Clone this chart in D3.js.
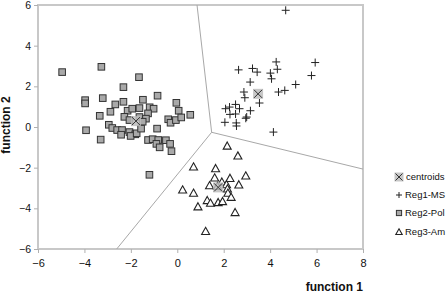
<!DOCTYPE html>
<html>
<head>
<meta charset="utf-8">
<script src="https://cdn.jsdelivr.net/npm/d3@7"></script>
<style>
  body { margin: 0; background: #fff; }
  svg { display: block; font-family: Arial, "Liberation Sans", sans-serif; }
</style>
</head>
<body>
<div id="chart"></div>
<script>
// Reg1-MS (dấu +)
const reg1X = [4.67, 4.26, 5.94, 2.64, 3.24, 3.44, 4.31, 4.01, 4.06, 5.78, 3.14, 5.10, 4.63, 4.36, 2.87,
               2.91, 3.54, 2.51, 2.25, 2.08, 2.68, 2.27, 2.51, 3.15, 2.95, 2.99, 2.05, 2.54, 2.55, 4.14];
const reg1Y = [5.74, 3.20, 3.17, 2.81, 2.88, 2.70, 2.84, 2.65, 2.37, 2.53, 2.21, 2.09, 1.80, 1.72, 1.72,
               1.44, 1.18, 1.11, 0.98, 0.90, 0.90, 0.62, 0.64, 0.80, 0.43, 0.49, 0.23, 0.20, 0.05, -0.25];

// Reg2-Pol (ô vuông)
const reg2X = [-4.96, -3.27, -1.65, -2.32, -0.85, -0.04, -3.97, -3.97, -3.21, -2.32, -2.67, -1.48, -2.88, -3.34,
               -2.14, -1.94, -1.63, -1.19, -1.02, -1.26, -2.28, -2.06, -1.63, -1.35, -1.49, -0.39, -0.29, -2.95,
               -2.80, -2.59, -2.38, -2.42, -2.06, -1.81, -2.01, -1.75, -1.56, -0.87, -3.93, -3.30, -1.26, -1.06,
               -0.82, -0.90, -0.76, -0.49, -0.31, -0.25, 0.06, -0.06, 0.56, 0.17, -1.20];
const reg2Y = [2.70, 2.96, 2.45, 1.96, 1.54, 1.19, 1.32, 1.16, 1.42, 1.24, 1.11, 1.34, 0.75, 0.55,
               0.80, 0.90, 0.93, 0.97, 0.90, 0.67, 0.50, 0.34, 0.49, 0.41, 0.26, 0.38, 0.21, 0.11,
               -0.05, -0.15, -0.15, -0.38, -0.25, -0.36, -0.44, -0.31, -0.08, -0.08, -0.16, -0.62, -0.64, -0.60,
               -0.64, -0.83, -1.00, -0.65, -0.83, -1.19, 0.80, 0.34, 0.60, 0.47, -2.35];

// Reg3-Am (tam giác)
const reg3X = [2.15, 2.61, 0.70, 1.65, 1.61, 2.95, 2.27, 1.92, 1.39, 2.12, 2.65, 0.23, 2.16, 2.18,
               0.70, 2.32, 1.29, 1.43, 1.76, 1.95, 0.89, 2.49, 1.22, 1.73];
const reg3Y = [-0.93, -1.42, -1.96, -2.04, -2.50, -2.40, -2.52, -2.70, -2.88, -2.83, -2.84, -3.09, -3.04, -3.25,
               -3.25, -3.45, -3.61, -3.74, -3.71, -3.66, -3.92, -4.20, -5.13, -2.92];

// Tâm nhóm (centroids)
const centroidX = [3.48, -1.78, 1.76];
const centroidY = [1.63, 0.29, -2.97];

// Đường phân vùng: đỉnh chung và 3 điểm cuối
const boundaryVertex = [1.48, -0.26];
const boundaryEndX = [0.85, 8, -2.61];
const boundaryEndY = [6, -2.07, -6];

const xTicks = [-6, -4, -2, 0, 2, 4, 6, 8];
const yTicks = [-6, -4, -2, 0, 2, 4, 6];
const legendLabels = ["centroids", "Reg1-MS", "Reg2-Pol", "Reg3-Am"];

const chartWidth = 448, chartHeight = 294;
const margin = { top: 5, right: 85, bottom: 45, left: 38 };
const width = chartWidth - margin.left - margin.right;
const height = chartHeight - margin.top - margin.bottom;

const svgRoot = d3.select("#chart").append("svg")
    .attr("width", chartWidth)
    .attr("height", chartHeight);
const svg = svgRoot.append("g")
    .attr("transform", `translate(${margin.left},${margin.top})`);

const x = d3.scaleLinear().domain([-6, 8]).range([0, width]);
const y = d3.scaleLinear().domain([-6, 6]).range([height, 0]);

// Khung viền xám nhạt
svg.append("rect")
    .attr("x", 0).attr("y", 0)
    .attr("width", width).attr("height", height)
    .attr("fill", "none")
    .attr("stroke", "#c8c8c8")
    .attr("stroke-width", 2);

// Trục X
const xAxis = svg.append("g")
    .attr("transform", `translate(0,${height})`)
    .call(d3.axisBottom(x).tickValues(xTicks).tickSize(4).tickPadding(6).tickFormat(d3.format("d")));
xAxis.select(".domain").remove();
xAxis.selectAll("line").attr("stroke", "#b0b0b0");
xAxis.selectAll("text").style("font-size", "11px").style("fill", "#111")
    .style("font-family", "Arial, 'Liberation Sans', sans-serif");

// Trục Y
const yAxis = svg.append("g")
    .call(d3.axisLeft(y).tickValues(yTicks).tickSize(4).tickPadding(3).tickFormat(d3.format("d")));
yAxis.select(".domain").remove();
yAxis.selectAll("line").attr("stroke", "#b0b0b0");
yAxis.selectAll("text").style("font-size", "10.5px").style("fill", "#111")
    .style("font-family", "Arial, 'Liberation Sans', sans-serif");

// Nhãn trục
svg.append("text")
    .attr("x", width)
    .attr("y", height + 42)
    .attr("text-anchor", "end")
    .style("font-size", "12px").style("font-weight", "bold").style("fill", "#111")
    .text("function 1");

svg.append("text")
    .attr("transform", "rotate(-90)")
    .attr("x", -(y(0.1)))
    .attr("y", -28)
    .attr("text-anchor", "middle")
    .style("font-size", "12px").style("font-weight", "bold").style("fill", "#111")
    .text("function 2");

// Đường phân vùng
boundaryEndX.forEach((ex, i) => {
    svg.append("line")
        .attr("x1", x(boundaryVertex[0])).attr("y1", y(boundaryVertex[1]))
        .attr("x2", x(ex)).attr("y2", y(boundaryEndY[i]))
        .attr("stroke", "#a8a8a8")
        .attr("stroke-width", 1);
});

// Hàm vẽ ký hiệu
const drawPlus = (g, cx, cy, s) => {
    g.append("path")
        .attr("d", `M${cx - s},${cy}H${cx + s}M${cx},${cy - s}V${cy + s}`)
        .attr("stroke", "#222").attr("stroke-width", 1).attr("fill", "none");
};
const drawSquare = (g, cx, cy, s) => {
    g.append("rect")
        .attr("x", cx - s).attr("y", cy - s)
        .attr("width", 2 * s).attr("height", 2 * s)
        .attr("fill", "#a9a9a9").attr("stroke", "#333").attr("stroke-width", 1);
};
const drawTriangle = (g, cx, cy, s) => {
    g.append("path")
        .attr("d", `M${cx},${cy - s}L${cx + s},${cy + s * 0.8}L${cx - s},${cy + s * 0.8}Z`)
        .attr("fill", "#fff").attr("stroke", "#222").attr("stroke-width", 1.1);
};
const drawCentroid = (g, cx, cy, s) => {
    g.append("rect")
        .attr("x", cx - s).attr("y", cy - s)
        .attr("width", 2 * s).attr("height", 2 * s)
        .attr("fill", "#bdbdbd").attr("opacity", 0.85);
    g.append("path")
        .attr("d", `M${cx - s + 1},${cy - s + 1}L${cx + s - 1},${cy + s - 1}M${cx + s - 1},${cy - s + 1}L${cx - s + 1},${cy + s - 1}`)
        .attr("stroke", "#333").attr("stroke-width", 1).attr("fill", "none");
};

const points = svg.append("g");
reg2X.forEach((v, i) => drawSquare(points, x(v), y(reg2Y[i]), 3.3));
reg1X.forEach((v, i) => drawPlus(points, x(v), y(reg1Y[i]), 4));
reg3X.forEach((v, i) => drawTriangle(points, x(v), y(reg3Y[i]), 4));
centroidX.forEach((v, i) => drawCentroid(points, x(v), y(centroidY[i]), 5));

// Chú giải
const legend = svgRoot.append("g").attr("transform", "translate(399,0)");
const legendY = [177, 195, 213, 232];
const legendDraw = [
    (g, cy) => drawCentroid(g, 0, cy, 4.5),
    (g, cy) => drawPlus(g, 0, cy, 3),
    (g, cy) => drawSquare(g, 0, cy, 2.6),
    (g, cy) => drawTriangle(g, 0, cy, 3.2)
];
legendLabels.forEach((lab, i) => {
    legendDraw[i](legend, legendY[i]);
    legend.append("text")
        .attr("x", i === 0 ? 7 : 6)
        .attr("y", legendY[i])
        .attr("dy", "0.35em")
        .style("font-size", "9.5px").style("fill", "#111")
        .text(lab);
});
</script>
</body>
</html>
